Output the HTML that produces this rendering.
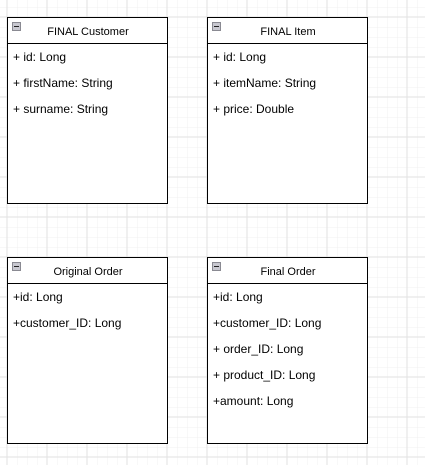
<!DOCTYPE html>
<html><head><style>
html,body{margin:0;padding:0;background:#fff;}
svg{display:block;}
text{font-family:"Liberation Sans",Arial,sans-serif;fill:#000;}
</style></head><body>
<svg width="425" height="465" xmlns="http://www.w3.org/2000/svg">
<defs>
<pattern id="minor" x="7" y="7" width="10" height="10" patternUnits="userSpaceOnUse">
<path d="M0 0H10M0 0V10" stroke="#f0f0f0" stroke-width="1" fill="none"/>
</pattern>
<pattern id="major" x="6.5" y="16.5" width="40" height="40" patternUnits="userSpaceOnUse">
<path d="M0 0.5H40M0.5 0V40" stroke="#e2e2e2" stroke-width="1" fill="none"/>
</pattern>
<g id="icon">
<rect x="0.5" y="0.5" width="8" height="8" fill="#c8c8d0" stroke="#8a8a92"/>
<line x1="2" y1="4.5" x2="7" y2="4.5" stroke="#222" stroke-width="1"/>
</g>
</defs>
<rect width="425" height="465" fill="url(#minor)"/>
<rect width="425" height="465" fill="url(#major)"/>

<g stroke="#000" stroke-width="1" fill="#fff">
<rect x="7.5" y="17.5" width="160" height="186"/>
<line x1="7.5" y1="43.5" x2="167.5" y2="43.5"/>
<rect x="207.5" y="17.5" width="160" height="186"/>
<line x1="207.5" y1="43.5" x2="367.5" y2="43.5"/>
<rect x="7.5" y="257.5" width="160" height="186"/>
<line x1="7.5" y1="283.5" x2="167.5" y2="283.5"/>
<rect x="207.5" y="257.5" width="160" height="186"/>
<line x1="207.5" y1="283.5" x2="367.5" y2="283.5"/>
</g>
<use href="#icon" x="12" y="22"/>
<use href="#icon" x="212" y="22"/>
<use href="#icon" x="12" y="262"/>
<use href="#icon" x="212" y="262"/>

<g font-size="11" text-anchor="middle">
<text x="88" y="35">FINAL Customer</text>
<text x="288" y="35">FINAL Item</text>
<text x="88" y="275">Original Order</text>
<text x="288" y="275">Final Order</text>
</g>
<g font-size="12">
<text x="13" y="61">+ id: Long</text>
<text x="13" y="87">+ firstName: String</text>
<text x="13" y="113">+ surname: String</text>
<text x="213" y="61">+ id: Long</text>
<text x="213" y="87">+ itemName: String</text>
<text x="213" y="113">+ price: Double</text>
<text x="13" y="301">+id: Long</text>
<text x="13" y="327">+customer_ID: Long</text>
<text x="213" y="301">+id: Long</text>
<text x="213" y="327">+customer_ID: Long</text>
<text x="213" y="353">+ order_ID: Long</text>
<text x="213" y="379">+ product_ID: Long</text>
<text x="213" y="405">+amount: Long</text>
</g>
</svg>
</body></html>
